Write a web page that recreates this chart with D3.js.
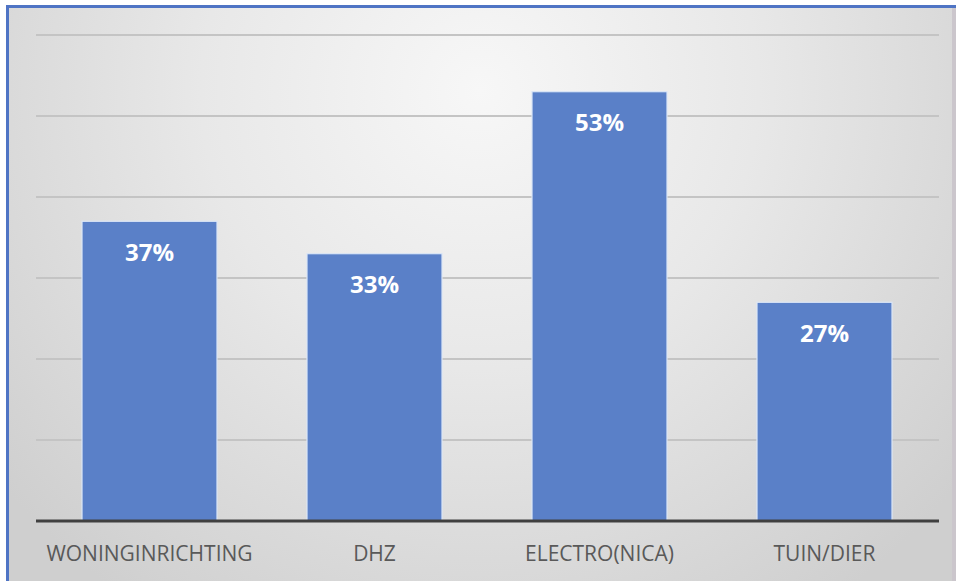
<!DOCTYPE html>
<html>
<head>
<meta charset="utf-8">
<script src="https://cdn.jsdelivr.net/npm/d3@7"></script>
<style>
  body { margin: 0; background: #ffffff; }
  svg { display: block; }
</style>
</head>
<body>
<div id="chart"></div>
<script>
// data
const categories = ["WONINGINRICHTING", "DHZ", "ELECTRO(NICA)", "TUIN/DIER"];
const values = [37, 33, 53, 27];
const gridTicks = [10, 20, 30, 40, 50, 60];

const W = 956, H = 581;
const svg = d3.select("#chart").append("svg")
    .attr("width", W)
    .attr("height", H);

// achtergrond met radiale gradient
const defs = svg.append("defs");
const grad = defs.append("radialGradient")
    .attr("id", "bg")
    .attr("gradientUnits", "userSpaceOnUse")
    .attr("cx", 480).attr("cy", 90)
    .attr("r", 620);
grad.append("stop").attr("offset", "0%").attr("stop-color", "#f7f7f7");
grad.append("stop").attr("offset", "45%").attr("stop-color", "#e8e8e8");
grad.append("stop").attr("offset", "100%").attr("stop-color", "#cfcfcf");

svg.append("rect")
    .attr("x", 6).attr("y", 5)
    .attr("width", W - 6).attr("height", H - 5)
    .attr("fill", "url(#bg)");

// rand links en boven
svg.append("rect").attr("x", 6).attr("y", 5).attr("width", 3).attr("height", H - 5).attr("fill", "#4f74c4");
svg.append("rect").attr("x", 6).attr("y", 5).attr("width", W - 6).attr("height", 3).attr("fill", "#4f74c4");
svg.append("rect").attr("x", 952).attr("y", 8).attr("width", 4).attr("height", H - 8).attr("fill", "#cbc6cc");

const margin = { left: 37, right: 17, top: 35, bottom: 60 };
const plotW = 937 - margin.left;
const baseY = 521;

const x = d3.scaleBand()
    .domain(categories)
    .range([margin.left, margin.left + plotW])
    .paddingInner(0.4)
    .paddingOuter(0.2);

const y = d3.scaleLinear()
    .domain([0, 60])
    .range([baseY, margin.top]);

// rasterlijnen
svg.append("g")
    .selectAll("line")
    .data(gridTicks)
    .enter().append("line")
    .attr("x1", 36)
    .attr("x2", 939)
    .attr("y1", d => y(d))
    .attr("y2", d => y(d))
    .attr("stroke", "#c4c4c4")
    .attr("stroke-width", 2);

// staven
svg.append("g")
    .selectAll("rect")
    .data(categories)
    .enter().append("rect")
    .attr("x", d => x(d))
    .attr("width", x.bandwidth())
    .attr("y", (d, i) => y(values[i]))
    .attr("height", (d, i) => baseY - y(values[i]))
    .attr("fill", "#5a80c8")
    .attr("stroke", "#dbe6f7")
    .attr("stroke-width", 1.2);

// labels in de staven
svg.append("g")
    .selectAll("text")
    .data(categories)
    .enter().append("text")
    .attr("x", d => x(d) + x.bandwidth() / 2)
    .attr("y", (d, i) => y(values[i]) + 31)
    .attr("dy", "0.35em")
    .attr("text-anchor", "middle")
    .style("font-family", "'Open Sans', 'Noto Sans', sans-serif")
    .style("font-size", "24px")
    .style("font-weight", "bold")
    .style("fill", "#ffffff")
    .text((d, i) => values[i] + "%");

// x-as
const xAxis = svg.append("g")
    .attr("transform", `translate(0,${baseY})`)
    .call(d3.axisBottom(x).tickSize(0).tickPadding(24));
xAxis.select(".domain")
    .attr("d", `M36,0H939`)
    .attr("stroke", "#404040")
    .attr("stroke-width", 3);
xAxis.selectAll("text")
    .attr("dy", "0.75em")
    .style("font-family", "'Open Sans', 'Noto Sans', sans-serif")
    .style("font-size", "21px")
    .style("fill", "#595959");
</script>
</body>
</html>
